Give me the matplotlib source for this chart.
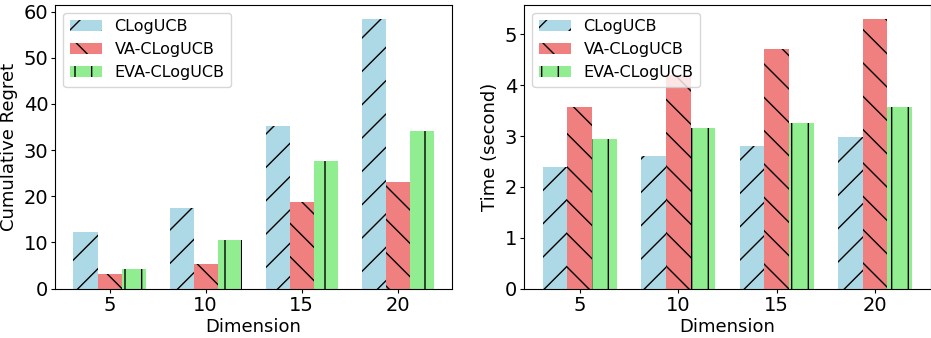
import matplotlib
matplotlib.use("Agg")
import matplotlib.pyplot as plt
import numpy as np

dims = ["5", "10", "15", "20"]
series = ["CLogUCB", "VA-CLogUCB", "EVA-CLogUCB"]
regret_clog = [12.2, 17.4, 35.2, 58.5]
regret_va = [3.2, 5.35, 18.8, 23.2]
regret_eva = [4.3, 10.6, 27.6, 34.1]
time_clog = [2.385, 2.60, 2.80, 2.98]
time_va = [3.565, 4.2, 4.72, 5.31]
time_eva = [2.94, 3.165, 3.26, 3.58]

colors = ["lightblue", "lightcoral", "lightgreen"]
hatches = ["/", "\\", "|"]

fig = plt.figure(figsize=(9.31, 3.38), dpi=100)
ax1 = fig.add_axes([0.0596, 0.146, 0.4256, 0.839])
ax2 = fig.add_axes([0.5632, 0.146, 0.4363, 0.839])

x = np.arange(len(dims))
w = 0.25

def draw(ax, data, ylabel):
    for i, (vals, name) in enumerate(zip(data, series)):
        ax.bar(x + (i - 1) * w, vals, w, color=colors[i], hatch=hatches[i], label=name)
    ax.set_xticks(x)
    ax.set_xticklabels(dims)
    ax.tick_params(labelsize=14, length=2.8, pad=2.4)
    ax.set_xlabel("Dimension", fontsize=13, labelpad=2)
    ax.set_ylabel(ylabel, fontsize=13, labelpad=4)
    ax.legend(loc="upper left", fontsize=11.5)

draw(ax1, [regret_clog, regret_va, regret_eva], "Cumulative Regret")
draw(ax2, [time_clog, time_va, time_eva], "Time (second)")

fig.savefig("out.png", dpi=100)
